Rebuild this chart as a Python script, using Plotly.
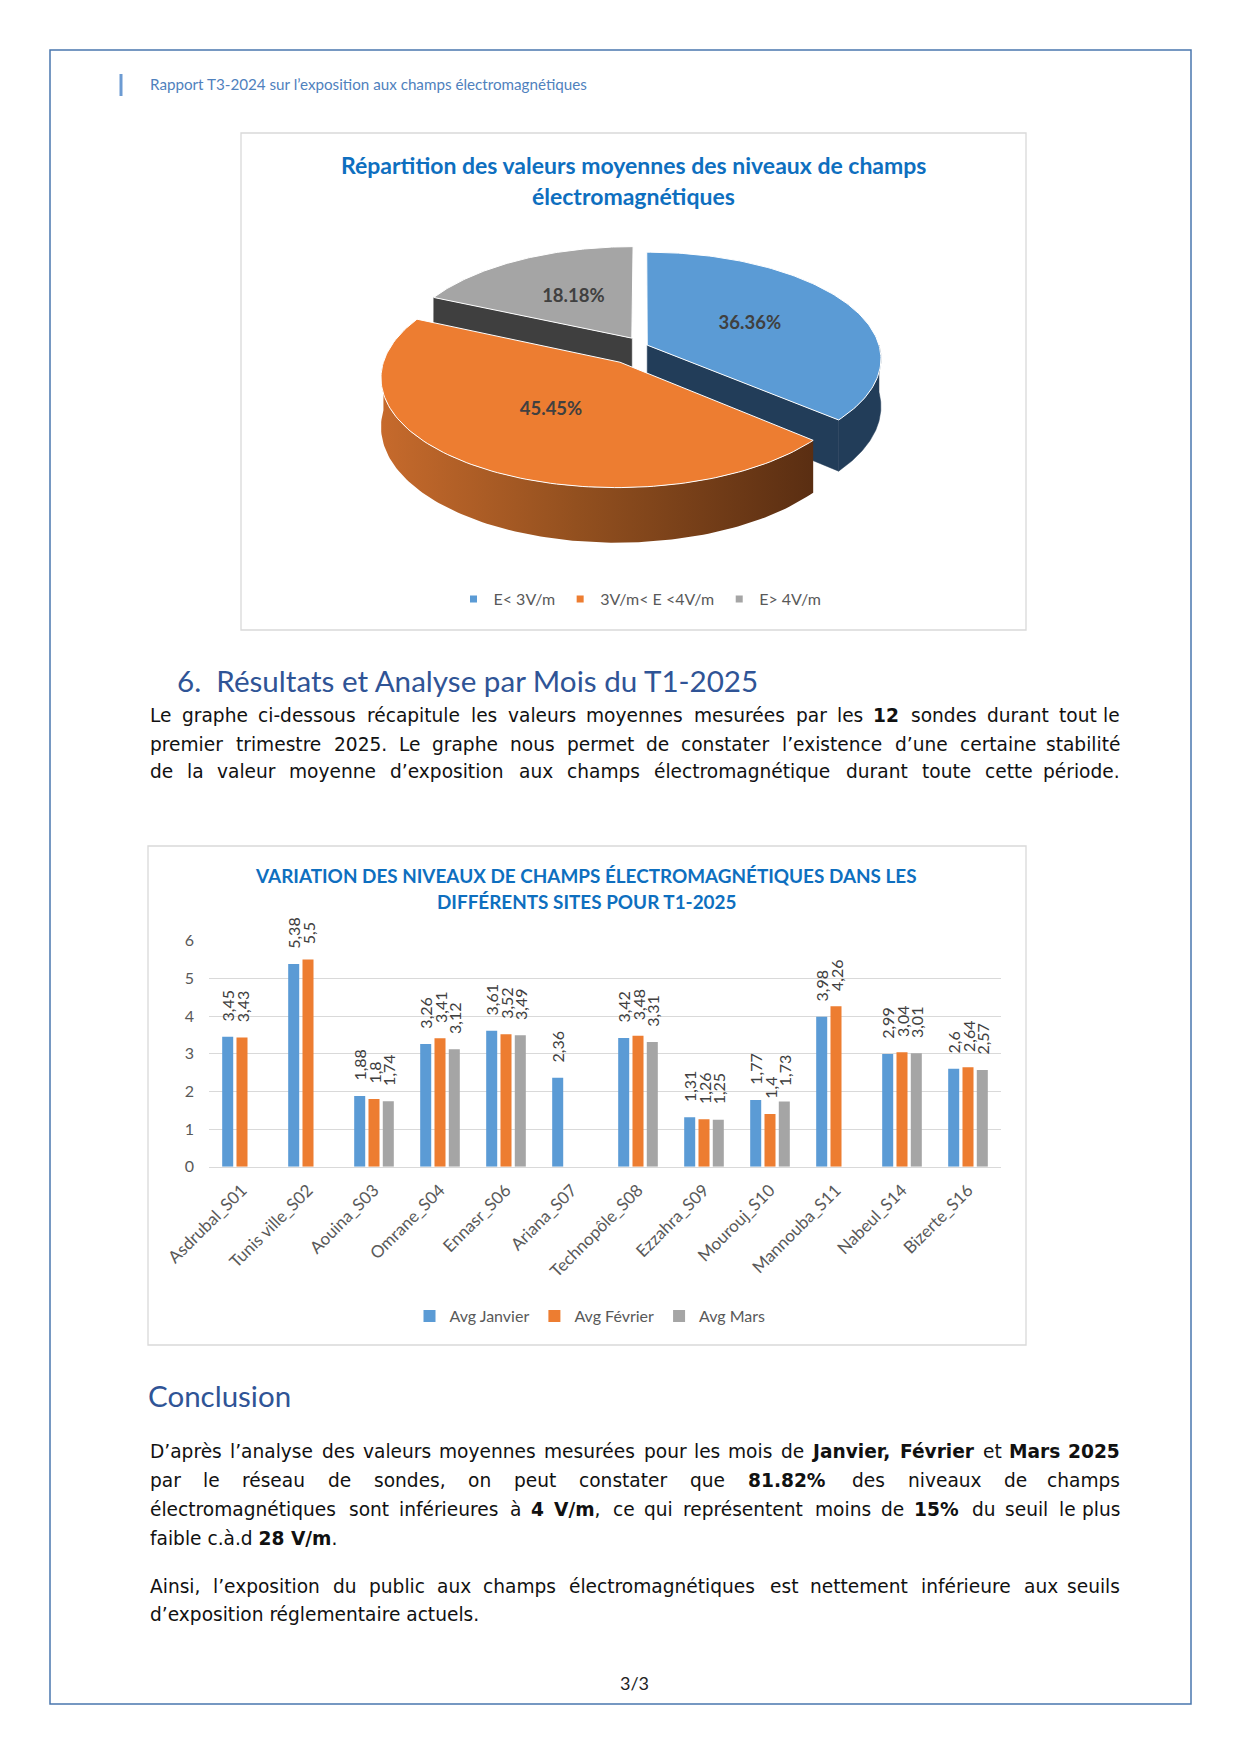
import re
import numpy as np
import plotly.graph_objects as go

W, H = 1241, 1755

# ---------------- data ----------------
sites = ["Asdrubal_S01", "Tunis ville_S02", "Aouina_S03", "Omrane_S04", "Ennasr_S06", "Ariana_S07",
         "Technopôle_S08", "Ezzahra_S09", "Mourouj_S10", "Mannouba_S11", "Nabeul_S14", "Bizerte_S16"]
avg_janvier = [3.45, 5.38, 1.88, 3.26, 3.61, 2.36, 3.42, 1.31, 1.77, 3.98, 2.99, 2.60]
avg_fevrier = [3.43, 5.50, 1.80, 3.41, 3.52, None, 3.48, 1.26, 1.40, 4.26, 3.04, 2.64]
avg_mars = [None, None, 1.74, 3.12, 3.49, None, 3.31, 1.25, 1.73, None, 3.01, 2.57]
series_names = ["Avg Janvier", "Avg Février", "Avg Mars"]
y_ticks = [0, 1, 2, 3, 4, 5, 6]

pie_labels = ["E< 3V/m", "3V/m< E <4V/m", "E> 4V/m"]
pie_counts = [4, 5, 2]

pie_title = ["Répartition des valeurs moyennes des niveaux de champs", "électromagnétiques"]
bar_title = ["VARIATION DES NIVEAUX DE CHAMPS ÉLECTROMAGNÉTIQUES DANS LES", "DIFFÉRENTS SITES POUR T1-2025"]
header_text = "Rapport T3-2024 sur l’exposition aux champs électromagnétiques"
section_heading = "6.  Résultats et Analyse par Mois du T1-2025"
section_lines = [
    "Le graphe ci-dessous récapitule les valeurs moyennes mesurées par les <b>12</b> sondes durant tout le",
    "premier trimestre 2025. Le graphe nous permet de constater l’existence d’une certaine stabilité",
    "de la valeur moyenne d’exposition aux champs électromagnétique durant toute cette période.",
]
conclusion_heading = "Conclusion"
conclusion_lines = [
    "D’après l’analyse des valeurs moyennes mesurées pour les mois de <b>Janvier,</b> <b>Février</b> et <b>Mars</b> <b>2025</b>",
    "par le réseau de sondes, on peut constater que <b>81.82%</b> des niveaux de champs",
    "électromagnétiques sont inférieures à <b>4</b> <b>V/m</b>, ce qui représentent moins de <b>15%</b> du seuil le plus",
    "faible c.à.d <b>28 V/m</b>.",
]
ainsi_lines = [
    "Ainsi, l’exposition du public aux champs électromagnétiques est nettement inférieure aux seuils",
    "d’exposition réglementaire actuels.",
]
page_number = "3/3"

# ---------------- styles ----------------
BAR_COLORS = ["#5B9BD5", "#ED7D31", "#A5A5A5"]
PIE_TOP = ["#5B9BD5", "#ED7D31", "#A5A5A5"]
PIE_SIDE = ["#223D59", "#7A3F17", "#3F3F3F"]
ORANGE_GRAD = [[0, "#C66A2C"], [0.45, "#93501F"], [1, "#5A2E12"]]
TITLE_BLUE = "#0E6FBF"
HEAD_BLUE = "#2F5496"
BODY_FONT = "DejaVu Sans"
BODY_SIZE = 18.6
BODY_COLOR = "#111111"


def px(x):
    return x / W


def py(y):
    return 1 - y / H


fig = go.Figure()

# ---------------- bar chart ----------------
def fmt(v):
    if v is None:
        return ""
    return "\u00a0\u00a0\u00a0" + ("%g" % v).replace(".", ",")


for name, vals, col in zip(series_names, [avg_janvier, avg_fevrier, avg_mars], BAR_COLORS):
    fig.add_trace(go.Bar(
        x=sites, y=vals, name=name,
        marker=dict(color=col, line=dict(width=0)),
        text=[fmt(v) for v in vals], textposition="outside", textangle=-90,
        textfont=dict(family="Lato", size=16, color="#404040"),
        constraintext="none", cliponaxis=False,
        xaxis="x", yaxis="y", legend="legend", hoverinfo="skip",
    ))

# ---------------- 3D-looking pie (projected from the values) ----------------
ALPHA = 0.127      # perspective strength
RXp, RYp = 232.0, 105.0
DEPTHp = 47.0
PIE_CX, PIE_CY = 643, 346
pulls = [0.02, 0.18, 0.09]


def project(X, Y, drop=0.0):
    X = np.asarray(X, float)
    Y = np.asarray(Y, float)
    k = 1.0 / (1.0 + ALPHA * Y)
    return RXp * X * k, RYp * Y * k - drop * k


total = float(sum(pie_counts))
cum = np.concatenate([[0.0], np.cumsum(pie_counts)]) / total * 360.0

sides = []
tops = []
label_pts = []
for i in range(len(pie_counts)):
    t0, t1 = cum[i], cum[i + 1]
    b = np.radians((t0 + t1) / 2)
    ox, oy = pulls[i] * np.sin(b), pulls[i] * np.cos(b)
    ts = np.radians(np.linspace(t0, t1, 120))
    rX = ox + np.sin(ts)
    rY = oy + np.cos(ts)
    TX = np.concatenate([[ox], rX, [ox]])
    TY = np.concatenate([[oy], rY, [oy]])
    tx, ty = project(TX, TY)
    tops.append((float(np.mean(ty)), tx, ty, i))
    for tt, vis in ((t1, np.sin(np.radians(t1)) > 0.01), (t0, np.sin(np.radians(t0)) < -0.01)):
        if vis:
            ex = ox + np.sin(np.radians(tt))
            ey = oy + np.cos(np.radians(tt))
            ax_, ay_ = project([ox, ex], [oy, ey])
            bx_, by_ = project([ex, ox], [ey, oy], DEPTHp)
            fx = np.concatenate([ax_, bx_, ax_[:1]])
            fy = np.concatenate([ay_, by_, ay_[:1]])
            sides.append((float(np.mean(ay_)), fx, fy, i, "face"))
    lo, hi = max(t0, 90.0), min(t1, 270.0)
    if hi > lo:
        ws = np.radians(np.linspace(lo, hi, 120))
        wX = ox + np.sin(ws)
        wY = oy + np.cos(ws)
        ux, uy = project(wX, wY)
        dx, dy = project(wX[::-1], wY[::-1], DEPTHp)
        fx = np.concatenate([ux, dx, ux[:1]])
        fy = np.concatenate([uy, dy, uy[:1]])
        sides.append((float(np.mean(uy)), fx, fy, i, "wall"))
    lx, ly = project([ox + 0.5 * np.sin(b)], [oy + 0.5 * np.cos(b)])
    label_pts.append((lx[0], ly[0], "<b>%.2f%%</b>" % (pie_counts[i] / total * 100)))

for key, fx, fy, i, kind in sorted(sides, key=lambda s: -s[0]):
    grad = (kind == "wall" and i == 1)
    kw = dict(fillgradient=dict(type="horizontal", colorscale=ORANGE_GRAD)) if grad else dict(fillcolor=PIE_SIDE[i])
    fig.add_trace(go.Scatter(
        x=fx, y=fy, mode="lines", fill="toself",
        line=dict(color="rgba(0,0,0,0)" if grad else PIE_SIDE[i], width=0.5),
        xaxis="x3", yaxis="y3", showlegend=False, hoverinfo="skip", **kw))

for key, tx, ty, i in sorted(tops, key=lambda s: -s[0]):
    fig.add_trace(go.Scatter(
        x=tx, y=ty, mode="lines", fill="toself", fillcolor=PIE_TOP[i],
        line=dict(color="white", width=1), xaxis="x3", yaxis="y3",
        showlegend=False, hoverinfo="skip"))

fig.add_trace(go.Scatter(
    x=[p[0] for p in label_pts], y=[p[1] for p in label_pts], text=[p[2] for p in label_pts],
    mode="text", textfont=dict(family="Lato", size=18.5, color="#404040"),
    xaxis="x3", yaxis="y3", showlegend=False, hoverinfo="skip"))

for lab, col in zip(pie_labels, PIE_TOP):
    fig.add_trace(go.Scatter(
        x=[None], y=[None], mode="markers", name=lab,
        marker=dict(symbol="square", size=7, color=col),
        xaxis="x3", yaxis="y3", legend="legend2", hoverinfo="skip"))

# ---------------- page decorations ----------------
shapes = [
    dict(type="rect", xref="paper", yref="paper", x0=px(50), x1=px(1191), y0=py(50), y1=py(1704),
         line=dict(color="#4A77AE", width=1.5), layer="below"),
    dict(type="line", xref="paper", yref="paper", x0=px(121), x1=px(121), y0=py(74), y1=py(96),
         line=dict(color="#6C9BD2", width=3)),
    dict(type="rect", xref="paper", yref="paper", x0=px(241), x1=px(1026), y0=py(133), y1=py(630),
         line=dict(color="#D9D9D9", width=1.3), layer="below"),
    dict(type="rect", xref="paper", yref="paper", x0=px(148), x1=px(1026), y0=py(846), y1=py(1345),
         line=dict(color="#D9D9D9", width=1.3), layer="below"),
]

annotations = []


def ann(x, y, text, size, color, family="Lato", xanchor="left"):
    annotations.append(dict(
        x=px(x), y=py(y), xref="paper", yref="paper", text=text, showarrow=False,
        xanchor=xanchor, yanchor="middle", font=dict(family=family, size=size, color=color)))


ann(148, 84, header_text, 15.2, "#4F81BD")
ann(633, 165, "<b>%s</b>" % pie_title[0], 23, TITLE_BLUE, xanchor="center")
ann(633, 196, "<b>%s</b>" % pie_title[1], 23, TITLE_BLUE, xanchor="center")
ann(586, 875, "<b>%s</b>" % bar_title[0], 18.9, TITLE_BLUE, xanchor="center")
ann(586, 901, "<b>%s</b>" % bar_title[1], 18.9, TITLE_BLUE, xanchor="center")
ann(175, 680, section_heading, 29.6, HEAD_BLUE)
ann(146, 1395, conclusion_heading, 29.5, HEAD_BLUE)
ann(634, 1683, page_number, 18, "#222222", xanchor="center")

# approximate advance widths (em) of DejaVu Sans, used for justification
CW = {" ": .318, "!": .401, "%": .950, "'": .275, "’": .318, ",": .318, "-": .361, ".": .318, "/": .337,
      ":": .337, "_": .500}
for d in "0123456789":
    CW[d] = .636
CW.update(dict(A=.684, B=.686, C=.698, D=.770, E=.632, F=.575, G=.775, H=.752, I=.295, J=.295, K=.656,
               L=.557, M=.863, N=.748, O=.787, P=.603, Q=.787, R=.695, S=.635, T=.611, U=.732, V=.684,
               W=.989, X=.685, Y=.611, Z=.685,
               a=.613, b=.635, c=.550, d=.635, e=.615, f=.352, g=.635, h=.634, i=.278, j=.278, k=.579,
               l=.278, m=.974, n=.634, o=.612, p=.635, q=.635, r=.411, s=.521, t=.392, u=.634, v=.592,
               w=.818, x=.592, y=.592, z=.525))
ACC = {"é": "e", "è": "e", "ê": "e", "à": "a", "â": "a", "ô": "o", "î": "i", "ù": "u", "û": "u", "ç": "c", "É": "E"}
WIDTH_SAFETY = 1.015
BOLD_FACTOR = 1.15


def text_w(tok, size):
    w = 0.0
    for part_bold, part in re.findall(r"(<b>)?([^<]+)(?:</b>)?", tok):
        pw = sum(CW.get(ACC.get(ch, ch), .6) for ch in part) * size
        w += pw * (BOLD_FACTOR if part_bold else 1.0)
    return w * WIDTH_SAFETY


def body_line(line, y, justify, x0=148, x1=1122):
    if not justify:
        ann(x0, y, line, BODY_SIZE, BODY_COLOR, family=BODY_FONT)
        return
    toks = line.split(" ")
    ws = [text_w(t, BODY_SIZE) for t in toks]
    gap = max((x1 - x0 - sum(ws)) / (len(toks) - 1), 3.0)
    x = x0
    for j, (t, w) in enumerate(zip(toks, ws)):
        if j == len(toks) - 1:
            ann(x1, y, t, BODY_SIZE, BODY_COLOR, family=BODY_FONT, xanchor="right")
        else:
            ann(x, y, t, BODY_SIZE, BODY_COLOR, family=BODY_FONT)
        x += w + gap


for line, y in zip(section_lines, [716, 744, 772]):
    body_line(line, y, True)
for line, y, j in zip(conclusion_lines, [1451, 1480, 1509, 1538], [True, True, True, False]):
    body_line(line, y, j)
for line, y, j in zip(ainsi_lines, [1586, 1614], [True, False]):
    body_line(line, y, j)

# ---------------- layout ----------------
hidden_axis = dict(domain=[0, 1], visible=False, showticklabels=False, showgrid=False, zeroline=False,
                   automargin=False, fixedrange=True)
fig.update_layout(
    width=W, height=H, margin=dict(l=0, r=0, t=0, b=0, autoexpand=False),
    paper_bgcolor="white", plot_bgcolor="rgba(0,0,0,0)",
    barmode="group", bargap=0.35, bargroupgap=0.23,
    showlegend=True, shapes=shapes, annotations=annotations,
    xaxis=dict(domain=[px(209), px(1001)], anchor="y", type="category",
               tickangle=-45, tickfont=dict(family="Lato", size=17, color="#595959"),
               showgrid=False, showline=True, linecolor="#D9D9D9", linewidth=1, ticks="",
               ticklabelstandoff=6, fixedrange=True, automargin=False),
    yaxis=dict(domain=[py(1166.7), py(940)], anchor="x", range=[0, 6.02], tickvals=y_ticks,
               showgrid=True, gridcolor="#D9D9D9", gridwidth=1, zeroline=False, showline=False,
               tickfont=dict(family="Lato", size=16, color="#595959"), ticks="",
               ticklabelstandoff=14, fixedrange=True, automargin=False),
    xaxis3=dict(hidden_axis, anchor="y3", range=[-PIE_CX, W - PIE_CX]),
    yaxis3=dict(hidden_axis, anchor="x3", range=[PIE_CY - H, PIE_CY]),
    legend=dict(orientation="h", x=px(590), xanchor="center", y=py(1316), yanchor="middle",
                font=dict(family="Lato", size=16, color="#595959"), bgcolor="rgba(0,0,0,0)",
                traceorder="normal"),
    legend2=dict(orientation="h", x=px(640), xanchor="center", y=py(599), yanchor="middle",
                 font=dict(family="Lato", size=16, color="#595959"), bgcolor="rgba(0,0,0,0)",
                 traceorder="normal"),
)

fig.write_html("out.html", config={"displayModeBar": False},
               post_script="document.body.style.margin='0px';document.body.style.overflow='hidden';")
